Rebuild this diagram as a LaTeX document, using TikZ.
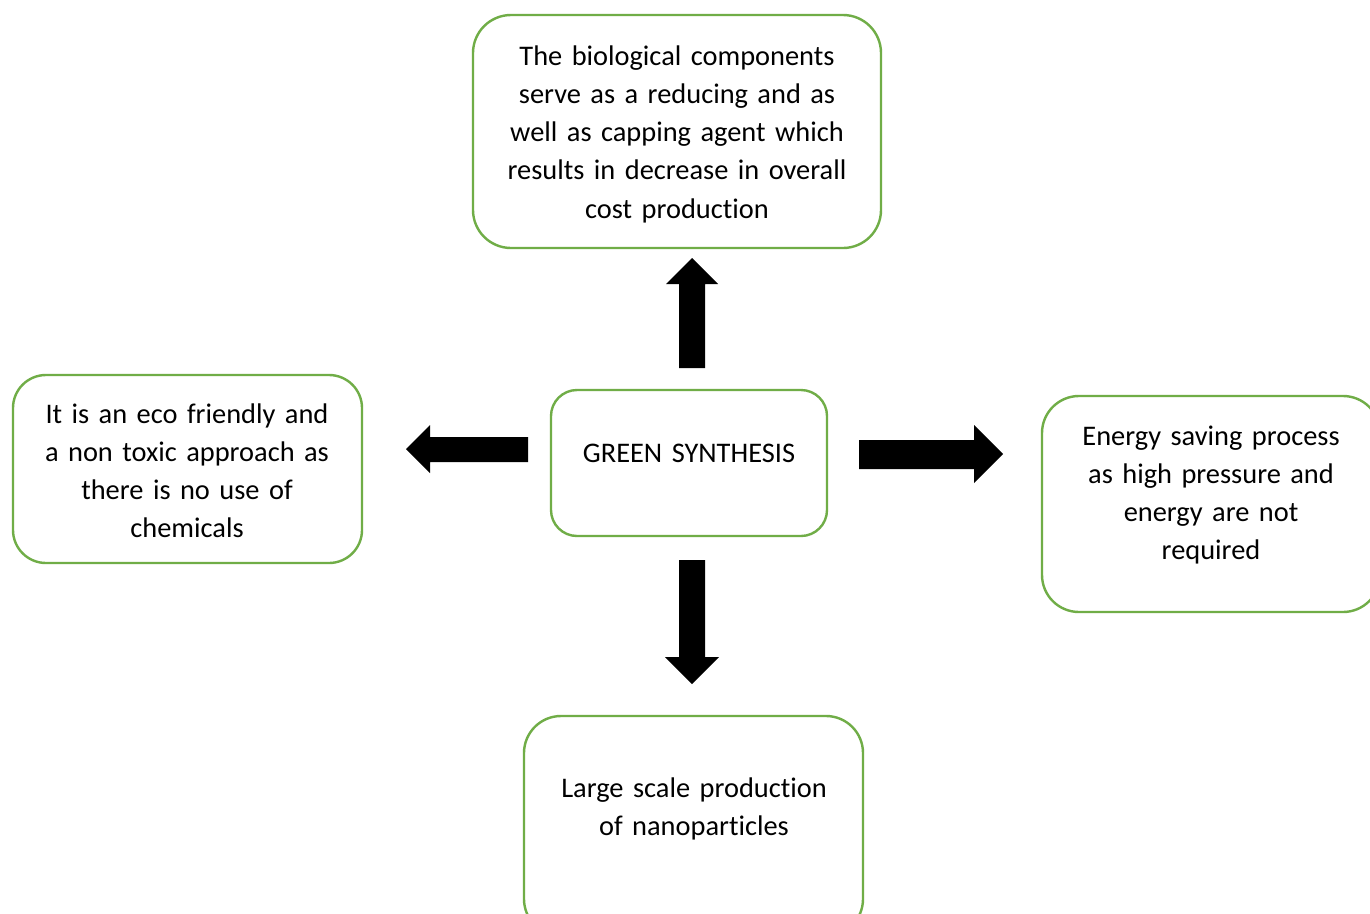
\documentclass[tikz,border=0pt]{standalone}
\usepackage{fontspec}
\setmainfont{Carlito}[RawFeature={-liga}]
\definecolor{boxgreen}{HTML}{70AD47}
\tikzset{
  greenbox/.style={draw=boxgreen, line width=2.4pt, rounded corners=#1, fill=white, inner sep=0pt},
  greenbox/.default=36pt,
  boxtext/.style={anchor=base, align=center, text width=400pt, inner sep=0pt,
    font=\fontsize{28.4pt}{38.3pt}\selectfont, text=black},
  blockarrow/.style={fill=black, draw=none},
}
\begin{document}
\begin{tikzpicture}[x=1pt,y=-1pt]
\useasboundingbox (0,0) rectangle (1370,913);
\fill[white] (0,0) rectangle (1370,913);
\clip (0,0) rectangle (1370,913);
% boxes
\node[greenbox=38pt, minimum width=408pt, minimum height=233pt] (topbox) at (677,131.5) {};
\node[greenbox=26pt, minimum width=276pt, minimum height=146pt] (centerbox) at (689,463) {};
\node[greenbox=33pt, minimum width=349pt, minimum height=188pt] (leftbox) at (187.5,469) {};
\node[greenbox=37pt, minimum width=338pt, minimum height=216pt] (rightbox) at (1211,504) {};
\node[greenbox=37pt, minimum width=339pt, minimum height=220pt] (bottombox) at (693.5,826) {};
% texts
\node[boxtext] (toptext) at (677,65) {The biological components\\serve as a reducing and as\\well as capping agent which\\results in decrease in overall\\cost production};
\node[boxtext] (centertext) at (689,462) {GREEN SYNTHESIS};
\node[boxtext] (lefttext) at (187,423) {It is an eco friendly and\\a non toxic approach as\\there is no use of\\chemicals};
\node[boxtext] (righttext) at (1211,445) {Energy saving process\\as high pressure and\\energy are not\\required};
\node[boxtext] (bottomtext) at (694,797) {Large scale production\\of nanoparticles};
% block arrows
\fill[blockarrow] (679,368) -- (679,284) -- (666,284) -- (692,258) -- (718,284) -- (705,284) -- (705,368) -- cycle;
\fill[blockarrow] (679,560) -- (679,657) -- (665,657) -- (692,684) -- (719,657) -- (705,657) -- (705,560) -- cycle;
\fill[blockarrow] (528,437) -- (430,437) -- (430,425) -- (406,449) -- (430,473) -- (430,462) -- (528,462) -- cycle;
\fill[blockarrow] (859,440) -- (974,440) -- (974,425) -- (1003,454) -- (974,483) -- (974,469) -- (859,469) -- cycle;
\end{tikzpicture}
\end{document}
